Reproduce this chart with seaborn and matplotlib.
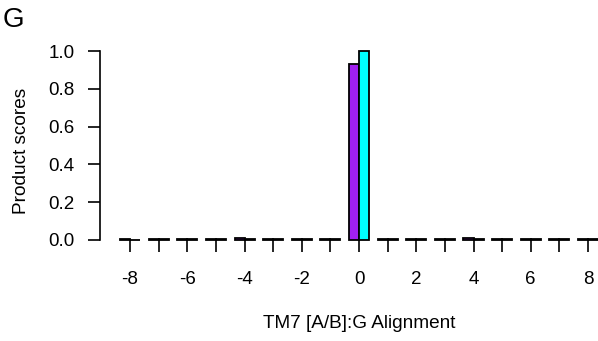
import matplotlib
matplotlib.use("Agg")
import matplotlib.pyplot as plt
import seaborn as sns
import pandas as pd

positions = list(range(-8, 9))
series_a = [0.003, 0.003, 0.003, 0.003, 0.012, 0.004, 0.003, 0.003, 0.93,
            0.003, 0.003, 0.003, 0.012, 0.003, 0.003, 0.003, 0.003]
series_b = [0.002, 0.003, 0.003, 0.003, 0.005, 0.003, 0.003, 0.003, 1.0,
            0.003, 0.003, 0.003, 0.005, 0.003, 0.003, 0.003, 0.006]
series_names = ["A", "B"]
colors = ["#A020F0", "#00FFFF"]
ytick_values = [0.0, 0.2, 0.4, 0.6, 0.8, 1.0]

df = pd.DataFrame({
    "pos": positions * 2,
    "score": series_a + series_b,
    "series": [series_names[0]] * len(positions) + [series_names[1]] * len(positions),
})

sns.set_style("white")
plt.rcParams["font.family"] = ["Liberation Sans", "DejaVu Sans"]
plt.rcParams["text.color"] = "black"
plt.rcParams["axes.labelcolor"] = "black"
plt.rcParams["xtick.color"] = "black"
plt.rcParams["ytick.color"] = "black"

W, H = 598, 341
x0, x1 = 100, 598
y0, y1 = 240, 51
fig = plt.figure(figsize=(W / 100, H / 100), dpi=100)
ax = fig.add_axes([x0 / W, 1 - y0 / H, (x1 - x0) / W, (y0 - y1) / H])

sns.barplot(data=df, x="pos", y="score", hue="series", palette=colors,
            native_scale=True, width=0.7, dodge=True, edgecolor="black",
            linewidth=1.3, saturation=1, legend=False, ax=ax)
for p in ax.patches:
    p.set_clip_on(False)

ax.set_xlim(-9.05, 8.35)
ax.set_ylim(0, 1.0)

for s in ["top", "right", "bottom"]:
    ax.spines[s].set_visible(False)
ax.spines["left"].set_color("black")
ax.spines["left"].set_linewidth(1.2)

ax.set_xticks(positions)
ax.set_xticklabels([str(p) if p % 2 == 0 else "" for p in positions])
ax.set_yticks(ytick_values)
ax.set_yticklabels([f"{v:.1f}" for v in ytick_values])
ax.tick_params(axis="x", bottom=True, length=8.5, width=1.2,
               pad=14, labelsize=13.5, direction="out")
ax.tick_params(axis="y", left=True, length=8.5, width=1.2,
               pad=10, labelsize=13.5, direction="out")

ax.set_xlabel("TM7 [A/B]:G Alignment", fontsize=13.7)
ax.xaxis.set_label_coords((359 - x0) / (x1 - x0), -(315 - y0) / (y0 - y1))
ax.set_ylabel("Product scores", fontsize=13.7)
ax.yaxis.set_label_coords((30 - x0) / (x1 - x0), (y0 - 151) / (y0 - y1))

fig.text(3 / W, 1 - 20 / H, "G", fontsize=20, va="center", ha="left")

fig.savefig("out.png", dpi=100)
